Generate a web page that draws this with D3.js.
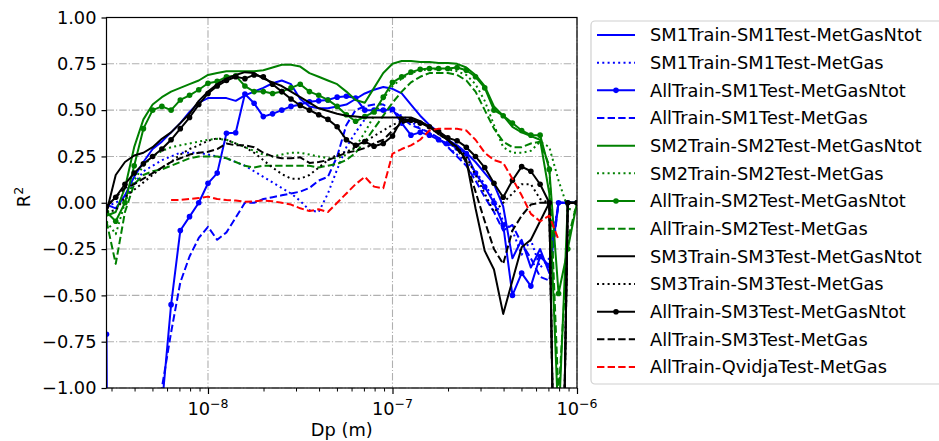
<!DOCTYPE html>
<html>
<head>
<meta charset="utf-8">
<script src="https://cdn.jsdelivr.net/npm/d3@7"></script>
<style>
  body { margin: 0; background: #fff; }
  svg { display: block; font-family: "DejaVu Sans", sans-serif; }
</style>
</head>
<body>
<div id="chart"></div>
<script>
// size bins (nm), 20 per decade
const dpNm = [2.818, 3.162, 3.548, 3.981, 4.467, 5.012, 5.623, 6.310, 7.079, 7.943, 8.913, 10.00, 11.22,
  12.59, 14.13, 15.85, 17.78, 19.95, 22.39, 25.12, 28.18, 31.62, 35.48, 39.81, 44.67, 50.12,
  56.23, 63.10, 70.79, 79.43, 89.13, 100.0, 112.2, 125.9, 141.3, 158.5, 177.8, 199.5, 223.9,
  251.2, 281.8, 316.2, 354.8, 398.1, 446.7, 501.2, 562.3, 631.0, 707.9, 794.3, 891.3, 1000];

// R2 per bin, one array per model run (values below -1 are off the chart)
const sm1Sm1Ntot = [-0.01, -0.03, 0.04, 0.14, 0.22, 0.29, 0.33, 0.38, 0.43, 0.49, 0.54, 0.565, 0.565,
  0.565, 0.55, 0.58, 0.6, 0.62, 0.645, 0.66, 0.64, 0.56, 0.52, 0.51, 0.51, 0.52,
  0.53, 0.56, 0.59, 0.61, 0.625, 0.615, 0.59, 0.53, 0.47, 0.42, 0.38, 0.34, 0.31,
  0.27, 0.22, 0.16, 0.1, -0.02, -0.3, -0.2, -0.35, -0.25, -0.38, 0.0, 0.0, 0.0];
const sm1Sm1Gas = [-0.02, 0.0, 0.03, 0.1, 0.17, 0.2, 0.23, 0.25, 0.27, 0.27, 0.27, 0.26, 0.25,
  0.24, 0.22, 0.2, 0.17, 0.14, 0.11, 0.08, 0.05, 0.01, -0.04, -0.05, 0.05, 0.18,
  0.3, 0.38, 0.45, 0.5, 0.5, 0.49, 0.47, 0.44, 0.4, 0.37, 0.34, 0.3, 0.26,
  0.22, 0.17, 0.1, 0.02, -0.1, -0.15, -0.28, -0.2, -0.35, -0.3, 0.0, 0.0, 0.0];
const allSm1Ntot = [-0.71, -10, -10, -10, -10, -10, -1.1, -0.55, -0.15, -0.075, 0.0, 0.105, 0.16,
  0.375, 0.378, 0.587, 0.537, 0.465, 0.48, 0.5, 0.52, 0.53, 0.545, 0.55, 0.555, 0.57,
  0.575, 0.565, 0.5, 0.5, 0.5, 0.505, 0.43, 0.365, 0.38, 0.365, 0.34, 0.32, 0.295,
  0.265, 0.16, 0.085, 0.0, -0.12, -0.5, -0.38, -0.45, -0.29, -0.34, 0.0, 0.0, 0.0];
const allSm1Gas = [-10, -10, -10, -10, -10, -10, -1.0, -0.7, -0.43, -0.29, -0.19, -0.13, -0.2,
  -0.16, -0.08, 0.0, 0.0, 0.02, 0.03, 0.04, 0.05, 0.06, 0.08, 0.12, 0.14, 0.25,
  0.42, 0.5, 0.52, 0.53, 0.53, 0.5, 0.46, 0.42, 0.4, 0.38, 0.35, 0.3, 0.25,
  0.2, 0.12, 0.03, -0.05, -0.15, -0.12, -0.22, -0.3, -0.4, -0.42, 0.0, 0.0, 0.0];
const sm2Sm2Ntot = [-0.07, -0.05, 0.08, 0.3, 0.45, 0.53, 0.57, 0.6, 0.62, 0.64, 0.66, 0.69, 0.7,
  0.71, 0.71, 0.71, 0.71, 0.715, 0.73, 0.745, 0.745, 0.735, 0.7, 0.68, 0.66, 0.64,
  0.6, 0.555, 0.54, 0.62, 0.7, 0.75, 0.765, 0.765, 0.76, 0.76, 0.755, 0.755, 0.75,
  0.73, 0.69, 0.63, 0.52, 0.47, 0.41, 0.38, 0.36, 0.34, 0.05, -1.2, 0.0, 0.0];
const sm2Sm2Gas = [-0.1, -0.17, 0.0, 0.12, 0.2, 0.25, 0.28, 0.3, 0.31, 0.32, 0.33, 0.34, 0.345,
  0.34, 0.32, 0.3, 0.28, 0.26, 0.25, 0.26, 0.27, 0.27, 0.26, 0.25, 0.24, 0.24,
  0.26, 0.3, 0.38, 0.47, 0.56, 0.63, 0.67, 0.7, 0.715, 0.72, 0.72, 0.72, 0.71,
  0.69, 0.64, 0.55, 0.42, 0.3, 0.27, 0.27, 0.28, 0.33, 0.3, 0.12, -0.03, -0.05];
const allSm2Ntot = [-0.05, -0.1, 0.0, 0.2, 0.4, 0.5, 0.52, 0.5, 0.555, 0.58, 0.61, 0.645, 0.655,
  0.68, 0.685, 0.63, 0.6, 0.6, 0.59, 0.6, 0.62, 0.64, 0.6, 0.58, 0.555, 0.52,
  0.475, 0.44, 0.465, 0.49, 0.57, 0.65, 0.68, 0.705, 0.72, 0.725, 0.725, 0.725, 0.73,
  0.715, 0.68, 0.62, 0.5, 0.47, 0.43, 0.39, 0.365, 0.365, 0.18, -0.49, -0.25, 0.0];
const allSm2Gas = [-0.1, -0.33, -0.05, 0.1, 0.15, 0.17, 0.18, 0.2, 0.22, 0.24, 0.25, 0.25, 0.25,
  0.24, 0.22, 0.2, 0.19, 0.2, 0.2, 0.2, 0.2, 0.2, 0.2, 0.19, 0.2, 0.21,
  0.23, 0.27, 0.33, 0.4, 0.47, 0.54, 0.6, 0.65, 0.68, 0.7, 0.7, 0.7, 0.69,
  0.66, 0.6, 0.5, 0.4, 0.33, 0.3, 0.3, 0.32, 0.33, 0.2, -1.05, -0.2, 0.0];
const sm3Sm3Ntot = [-0.05, 0.15, 0.22, 0.255, 0.27, 0.3, 0.345, 0.38, 0.43, 0.48, 0.55, 0.6, 0.64,
  0.67, 0.69, 0.705, 0.7, 0.67, 0.65, 0.63, 0.6, 0.57, 0.54, 0.51, 0.495, 0.48,
  0.47, 0.465, 0.46, 0.46, 0.46, 0.46, 0.46, 0.46, 0.44, 0.41, 0.38, 0.34, 0.3,
  0.23, -0.03, -0.26, -0.36, -0.6, -0.42, -0.24, -0.2, -0.1, 0.0, -3, 0.0, 0.0];
const sm3Sm3Gas = [-0.05, -0.04, 0.03, 0.07, 0.11, 0.15, 0.19, 0.22, 0.26, 0.29, 0.31, 0.335, 0.348,
  0.34, 0.32, 0.3, 0.27, 0.23, 0.19, 0.155, 0.13, 0.13, 0.15, 0.19, 0.23, 0.26,
  0.275, 0.3, 0.33, 0.36, 0.39, 0.42, 0.44, 0.44, 0.43, 0.41, 0.37, 0.34, 0.3,
  0.25, 0.15, 0.05, -0.05, 0.0, 0.05, 0.1, 0.1, 0.02, 0.0, -3, 0.0, 0.0];
const allSm3Ntot = [-0.02, 0.03, 0.1, 0.16, 0.21, 0.25, 0.29, 0.34, 0.4, 0.46, 0.53, 0.59, 0.63,
  0.66, 0.68, 0.67, 0.69, 0.68, 0.64, 0.6, 0.56, 0.525, 0.5, 0.475, 0.45, 0.41,
  0.34, 0.31, 0.33, 0.305, 0.32, 0.36, 0.45, 0.445, 0.43, 0.41, 0.385, 0.35, 0.335,
  0.3, 0.25, 0.19, 0.105, 0.03, 0.12, 0.195, 0.17, 0.1, 0.0, -3, 0.0, 0.0];
const allSm3Gas = [-0.02, 0.03, 0.08, 0.1, 0.13, 0.16, 0.19, 0.22, 0.24, 0.26, 0.27, 0.275, 0.29,
  0.32, 0.31, 0.31, 0.3, 0.27, 0.25, 0.24, 0.24, 0.245, 0.215, 0.22, 0.23, 0.25,
  0.27, 0.28, 0.295, 0.32, 0.34, 0.39, 0.43, 0.445, 0.44, 0.41, 0.37, 0.34, 0.29,
  0.22, 0.06, -0.1, -0.25, -0.33, -0.15, -0.07, -0.01, 0.0, 0.0, -3, 0.0, 0.0];
const allQvidjaGas = [null, null, null, null, null, null, null, 0.015, 0.015, 0.02, 0.025, 0.033, 0.02,
  0.015, 0.012, 0.005, 0.008, 0.012, 0.008, 0.0, -0.01, -0.03, -0.045, -0.035, -0.05, 0.0,
  0.05, 0.1, 0.14, 0.087, 0.078, 0.265, 0.29, 0.31, 0.34, 0.39, 0.4, 0.4, 0.4,
  0.39, 0.34, 0.27, 0.23, 0.215, 0.13, 0.04, -0.06, -0.1, -0.07, -0.2, null, null];

const yTicks = [-1, -0.75, -0.5, -0.25, 0, 0.25, 0.5, 0.75, 1];
const xMajor = [1e-8, 1e-7, 1e-6];
const xMajorExp = ["\u22128", "\u22127", "\u22126"];
const xMinor = [3e-9, 4e-9, 5e-9, 6e-9, 7e-9, 8e-9, 9e-9,
  2e-8, 3e-8, 4e-8, 5e-8, 6e-8, 7e-8, 8e-8, 9e-8,
  2e-7, 3e-7, 4e-7, 5e-7, 6e-7, 7e-7, 8e-7, 9e-7];

const BLUE = "#0000ff", GREEN = "#008000", BLACK = "#000000", RED = "#ff0000";
const series = [
  { label: "SM1Train-SM1Test-MetGasNtot", values: sm1Sm1Ntot, color: BLUE, kind: "solid" },
  { label: "SM1Train-SM1Test-MetGas", values: sm1Sm1Gas, color: BLUE, kind: "dotted" },
  { label: "AllTrain-SM1Test-MetGasNtot", values: allSm1Ntot, color: BLUE, kind: "marker" },
  { label: "AllTrain-SM1Test-MetGas", values: allSm1Gas, color: BLUE, kind: "dashed" },
  { label: "SM2Train-SM2Test-MetGasNtot", values: sm2Sm2Ntot, color: GREEN, kind: "solid" },
  { label: "SM2Train-SM2Test-MetGas", values: sm2Sm2Gas, color: GREEN, kind: "dotted" },
  { label: "AllTrain-SM2Test-MetGasNtot", values: allSm2Ntot, color: GREEN, kind: "marker" },
  { label: "AllTrain-SM2Test-MetGas", values: allSm2Gas, color: GREEN, kind: "dashed" },
  { label: "SM3Train-SM3Test-MetGasNtot", values: sm3Sm3Ntot, color: BLACK, kind: "solid" },
  { label: "SM3Train-SM3Test-MetGas", values: sm3Sm3Gas, color: BLACK, kind: "dotted" },
  { label: "AllTrain-SM3Test-MetGasNtot", values: allSm3Ntot, color: BLACK, kind: "marker" },
  { label: "AllTrain-SM3Test-MetGas", values: allSm3Gas, color: BLACK, kind: "dashed" },
  { label: "AllTrain-QvidjaTest-MetGas", values: allQvidjaGas, color: RED, kind: "dashed" }
];

const lw = 2;
const dashes = { solid: null, marker: null, dashed: "7.4,3.2", dotted: "2,3.3" };

const width = 939, height = 441;
const plot = { left: 106.5, right: 577, top: 17.5, bottom: 388 };
const fontSize = 17.8;

const svg = d3.select("#chart").append("svg")
  .attr("width", width)
  .attr("height", height);

const x = d3.scaleLog()
  .domain([dpNm[0] * 1e-9, dpNm[dpNm.length - 1] * 1e-9])
  .range([plot.left, plot.right]);
const y = d3.scaleLinear()
  .domain([-1, 1])
  .range([plot.bottom, plot.top]);

svg.append("defs").append("clipPath").attr("id", "plot-clip")
  .append("rect")
  .attr("x", plot.left).attr("y", plot.top)
  .attr("width", plot.right - plot.left).attr("height", plot.bottom - plot.top);

// grid, dash-dot like matplotlib '-.'
const grid = svg.append("g").attr("stroke", "#b0b0b0").attr("stroke-width", 1.1)
  .attr("stroke-dasharray", "7.5,2,1.2,2");
grid.selectAll("line.gy").data(yTicks).join("line")
  .attr("class", "gy")
  .attr("x1", plot.left).attr("x2", plot.right)
  .attr("y1", d => y(d)).attr("y2", d => y(d));
grid.selectAll("line.gx").data(xMajor).join("line")
  .attr("class", "gx")
  .attr("x1", d => x(d)).attr("x2", d => x(d))
  .attr("y1", plot.top).attr("y2", plot.bottom);

// curves
const line = d3.line()
  .defined(d => d.v !== null)
  .x(d => x(d.dp))
  .y(d => y(d.v));

const curves = svg.append("g").attr("clip-path", "url(#plot-clip)");
series.forEach(s => {
  const pts = dpNm.map((dp, i) => ({ dp: dp * 1e-9, v: s.values[i] }));
  curves.append("path")
    .datum(pts)
    .attr("d", line)
    .attr("fill", "none")
    .attr("stroke", s.color)
    .attr("stroke-width", lw)
    .attr("stroke-linejoin", "round")
    .attr("stroke-dasharray", dashes[s.kind]);
  if (s.kind === "marker") {
    curves.append("g").selectAll("circle")
      .data(pts.filter(d => d.v !== null))
      .join("circle")
      .attr("cx", d => x(d.dp))
      .attr("cy", d => y(d.v))
      .attr("r", 2.8)
      .attr("fill", s.color);
  }
});

// spines
svg.append("rect")
  .attr("x", plot.left).attr("y", plot.top)
  .attr("width", plot.right - plot.left).attr("height", plot.bottom - plot.top)
  .attr("fill", "none").attr("stroke", "#000").attr("stroke-width", 1.2);

// y axis
const yAxis = svg.append("g")
  .attr("transform", `translate(${plot.left},0)`)
  .call(d3.axisLeft(y).tickValues(yTicks).tickSize(5).tickPadding(5).tickFormat(d3.format(".2f")));
yAxis.select(".domain").remove();
yAxis.selectAll("line").attr("stroke", "#000").attr("stroke-width", 1.2);
yAxis.selectAll("text").attr("font-size", fontSize).attr("font-family", "DejaVu Sans").attr("fill", "#000");

// x axis, major + minor ticks
const xAxis = svg.append("g")
  .attr("transform", `translate(0,${plot.bottom})`)
  .call(d3.axisBottom(x).tickValues(xMajor).tickSize(6).tickFormat(""));
xAxis.select(".domain").remove();
xAxis.selectAll("line").attr("stroke", "#000").attr("stroke-width", 1.2);

const xMinorAxis = svg.append("g")
  .attr("transform", `translate(0,${plot.bottom})`)
  .call(d3.axisBottom(x).tickValues(xMinor).tickSize(3.5).tickFormat(""));
xMinorAxis.select(".domain").remove();
xMinorAxis.selectAll("line").attr("stroke", "#000").attr("stroke-width", 1);

const xLabels = svg.append("g").attr("font-size", fontSize).attr("fill", "#000");
xMajor.forEach((v, i) => {
  const t = xLabels.append("text")
    .attr("x", x(v))
    .attr("y", 415)
    .attr("text-anchor", "middle");
  t.append("tspan").text("10");
  t.append("tspan").attr("dy", -7.5).attr("font-size", 12.5).text(xMajorExp[i]);
});

// axis titles
svg.append("text")
  .attr("x", (plot.left + plot.right) / 2)
  .attr("y", 436)
  .attr("text-anchor", "middle")
  .attr("font-size", fontSize)
  .text("Dp (m)");

const yTitle = svg.append("text")
  .attr("transform", "translate(30,197) rotate(-90)")
  .attr("text-anchor", "middle")
  .attr("font-size", fontSize);
yTitle.append("tspan").text("R");
yTitle.append("tspan").attr("dy", -7).attr("font-size", 12.5).text("2");

// legend
const legend = svg.append("g");
legend.append("rect")
  .attr("x", 591).attr("y", 21)
  .attr("width", 370).attr("height", 363)
  .attr("rx", 4)
  .attr("fill", "#fff").attr("fill-opacity", 0.8)
  .attr("stroke", "#d0d0d0").attr("stroke-width", 1.2);

const rowGap = 27.67;
const rows = legend.selectAll("g.row").data(series).join("g")
  .attr("class", "row")
  .attr("transform", (d, i) => `translate(0,${35 + i * rowGap})`);
rows.append("line")
  .attr("x1", 597).attr("x2", 635)
  .attr("stroke", d => d.color)
  .attr("stroke-width", lw)
  .attr("stroke-dasharray", d => dashes[d.kind]);
rows.filter(d => d.kind === "marker").append("circle")
  .attr("cx", 616).attr("r", 2.8)
  .attr("fill", d => d.color);
rows.append("text")
  .attr("x", 650)
  .attr("y", 6.3)
  .attr("font-size", fontSize)
  .attr("fill", "#000")
  .text(d => d.label);
</script>
</body>
</html>
